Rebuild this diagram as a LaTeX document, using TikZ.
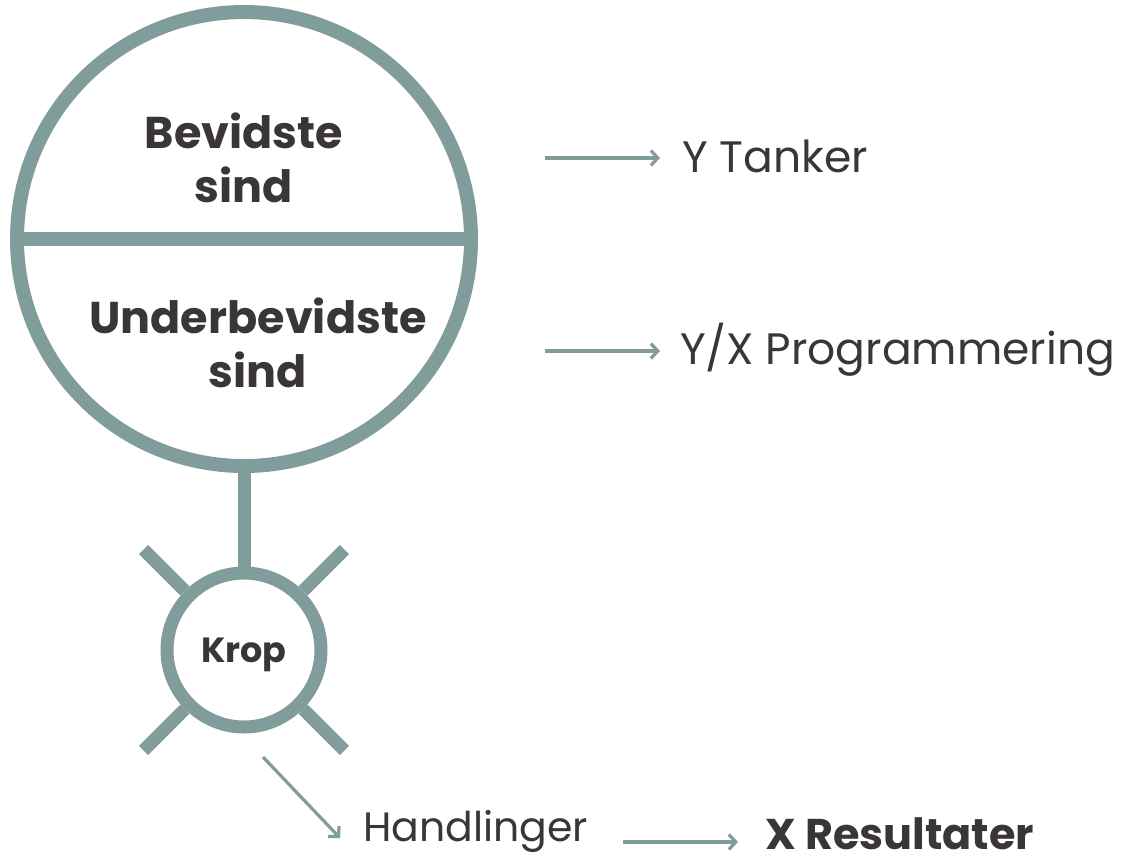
\documentclass[tikz,border=0pt]{standalone}
\usepackage{fontspec}
\setmainfont{Poppins}
\usetikzlibrary{arrows.meta,calc}
\definecolor{sage}{HTML}{809D9B}
\definecolor{ink}{HTML}{3A3536}
\tikzset{
    ring/.style={draw=sage, line width=14pt, circle, inner sep=0pt},
    spoke/.style={draw=sage, line width=13pt},
    pointer/.style={draw=sage, line width=3.2pt, -{Straight Barb[length=7pt,width=15pt,line width=3.2pt]}},
    label/.style={text=ink, font=\fontsize{44}{48}\selectfont, inner sep=0pt, anchor=west},
    head/.style={text=ink, font=\fontsize{44.5}{54}\selectfont\bfseries, align=center}
}
\begin{document}
\begin{tikzpicture}[x=1pt, y=-1pt]
            \useasboundingbox (0,0) rectangle (1127,863);
            % mind
            \node[ring, minimum size=454pt] (mind) at (244,239) {};
            \draw[sage, line width=14pt] (mind.west) -- (mind.east);
            \node[head] (bev) at (244,158) {Bevidste\\sind};
            \node[head] (under) at (258,343) {Underbevidste\\sind};
            % body
            \node[ring, line width=13pt, minimum size=154pt, text=ink, text depth=0pt,
                  font=\fontsize{35}{38}\selectfont\bfseries] (krop) at (244,650) {Krop};
            \draw[spoke] (mind.south) -- (krop.north);
            \foreach \a in {45,135,225,315}
                \draw[spoke] (krop.\a) -- ($(krop.center)+(\a:142pt)$);
            % outputs
            \node[label] (tanker) at (682,156) {Y Tanker};
            \node[label] (prog) at (680,350) {Y/X Programmering};
            \node[label, font=\fontsize{41}{44}\selectfont] (hand) at (363,831) {Handlinger};
            \node[label, font=\fontsize{43}{46}\selectfont\bfseries] (res) at (765,834) {X Resultater};
            \coordinate (t0) at (545,158);
            \coordinate (p0) at (545,351);
            \coordinate (h0) at (263,757);
            \coordinate (h1) at (340,838);
            \coordinate (r0) at (623,842);
            \draw[pointer] (t0) -- ++(115,0);
            \draw[pointer] (p0) -- ++(115,0);
            \draw[pointer] (h0) -- (h1);
            \draw[pointer] (r0) -- ++(115,0);
\end{tikzpicture}
\end{document}
